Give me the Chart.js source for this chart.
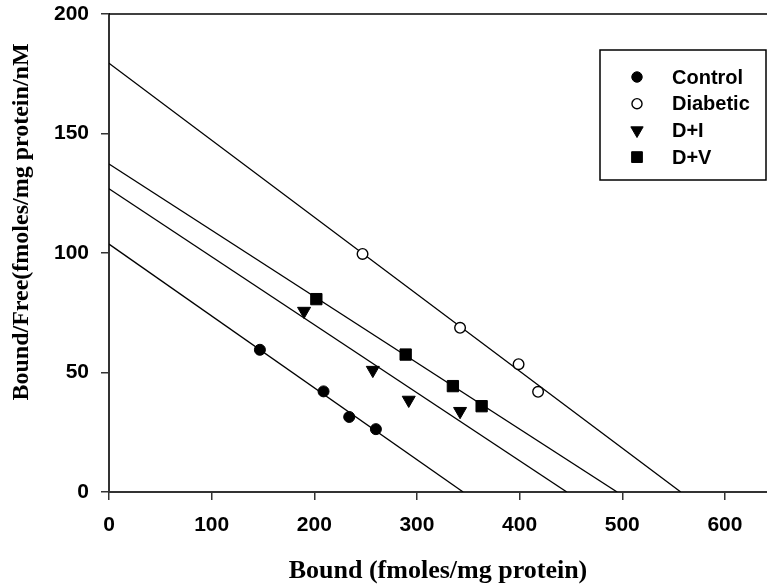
<!DOCTYPE html>
<html>
<head>
<meta charset="utf-8">
<script src="https://cdn.jsdelivr.net/npm/chart.js@4.4.0/dist/chart.umd.min.js"></script>
<style>
html, body { margin: 0; padding: 0; background: #fff; }
</style>
</head>
<body>
<canvas id="MyChart1" width="767" height="588"></canvas>
<script>
// measured points (Bound, Bound/Free)
var controlX = [147, 209, 234, 260];
var controlY = [59.5, 42.1, 31.4, 26.3];
var diabeticX = [247, 342, 399, 418];
var diabeticY = [99.6, 68.7, 53.5, 41.9];
var diX = [190, 257, 292, 342];
var diY = [75.7, 51.0, 38.5, 33.8];
var dvX = [202, 289, 335, 363];
var dvY = [80.7, 57.5, 44.3, 35.9];

// fitted lines, read as [y-intercept, x-intercept]
var controlFit = [103.7, 345];
var diabeticFit = [179.4, 557];
var diFit = [126.9, 446];
var dvFit = [137.2, 495];

var yTicks = [0, 50, 100, 150, 200];
var xTicks = [0, 100, 200, 300, 400, 500, 600];

function pts(xs, ys) {
	var out = [];
	for (var i = 0; i < xs.length; i++) out.push({ x: xs[i], y: ys[i] });
	return out;
}
function fit(f) {
	return [{ x: 0, y: f[0] }, { x: f[1], y: 0 }];
}
function fitLine(f) {
	return {
		data: fit(f),
		showLine: true,
		borderColor: "#000",
		borderWidth: 1.3,
		pointRadius: 0,
		order: 2,
		isFit: true
	};
}

var legendBox = {
	id: "legendBox",
	afterDraw: function(chart) {
		var ctx = chart.ctx;
		var area = chart.chartArea;
		ctx.save();
		// frame line on top
		ctx.strokeStyle = "#000";
		ctx.lineWidth = 1.5;
		ctx.beginPath();
		ctx.moveTo(area.left, area.top);
		ctx.lineTo(area.right, area.top);
		ctx.stroke();

		// y title
		ctx.fillStyle = "#000";
		ctx.font = "bold 24px 'Liberation Serif'";
		ctx.textAlign = "center";
		ctx.textBaseline = "middle";
		ctx.translate(22, 222);
		ctx.rotate(-Math.PI / 2);
		ctx.fillText("Bound/Free(fmoles/mg protein/nM", 0, 0);
		ctx.restore();

		// legend
		ctx.save();
		ctx.strokeStyle = "#000";
		ctx.lineWidth = 1.5;
		ctx.strokeRect(600, 50, 166, 130);
		ctx.font = "bold 20px 'Liberation Sans'";
		ctx.textAlign = "left";
		ctx.textBaseline = "middle";
		var y = 77;
		chart.data.datasets.forEach(function(ds) {
			if (ds.isFit) return;
			ctx.fillStyle = ds.backgroundColor;
			ctx.strokeStyle = ds.borderColor;
			ctx.lineWidth = ds.borderWidth;
			Chart.helpers.drawPoint(ctx, {
				pointStyle: ds.pointStyle,
				radius: ds.pointRadius * 0.95,
				rotation: ds.rotation || 0,
				borderWidth: ds.borderWidth
			}, 637, y);
			ctx.fillStyle = "#000";
			ctx.fillText(ds.label, 672, y + 1);
			y += 26.7;
		});
		ctx.restore();
	}
};

var tickFont = { family: "'Liberation Sans', Arial", weight: "bold", size: 21 };

var ctx = document.getElementById("MyChart1").getContext("2d");
var chart = new Chart(ctx, {
	type: "scatter",
	data: {
		datasets: [
			{ label: "Control", data: pts(controlX, controlY), pointStyle: "circle", pointRadius: 5.5,
				backgroundColor: "#000", borderColor: "#000", borderWidth: 1, order: 1 },
			{ label: "Diabetic", data: pts(diabeticX, diabeticY), pointStyle: "circle", pointRadius: 5.3,
				backgroundColor: "#fff", borderColor: "#000", borderWidth: 1.4, order: 1 },
			{ label: "D+I", data: pts(diX, diY), pointStyle: "triangle", rotation: 180, pointRotation: 180, pointRadius: 7.5,
				backgroundColor: "#000", borderColor: "#000", borderWidth: 1, order: 1 },
			{ label: "D+V", data: pts(dvX, dvY), pointStyle: "rect", pointRadius: 8,
				backgroundColor: "#000", borderColor: "#000", borderWidth: 1, order: 1 },
			fitLine(controlFit),
			fitLine(diabeticFit),
			fitLine(diFit),
			fitLine(dvFit)
		]
	},
	options: {
		responsive: false,
		animation: false,
		layout: { autoPadding: false, padding: { top: 14, left: 0, right: 0, bottom: 0 } },
		plugins: {
			legend: { display: false },
			tooltip: { enabled: false }
		},
		scales: {
			x: {
				type: "linear",
				min: 0,
				max: 641,
				afterBuildTicks: function(s) {
					s.ticks = xTicks.map(function(v) { return { value: v }; });
				},
				ticks: { color: "#000", font: tickFont, padding: 13, maxRotation: 0 },
				grid: { drawOnChartArea: false, drawTicks: true, tickLength: 8, color: "#333", lineWidth: 1.5 },
				border: { color: "#333", width: 2 },
				title: {
					display: true,
					text: "Bound (fmoles/mg protein)",
					color: "#000",
					font: { family: "'Liberation Serif', 'Times New Roman'", weight: "bold", size: 26 },
					padding: { top: 0, bottom: 1 }
				},
				afterFit: function(s) {
					s.height = 96;
					s.paddingLeft = 0;
					s.paddingRight = 0;
				}
			},
			y: {
				type: "linear",
				min: 0,
				max: 200,
				afterBuildTicks: function(s) {
					s.ticks = yTicks.map(function(v) { return { value: v }; });
				},
				ticks: { color: "#000", font: tickFont, padding: 12 },
				grid: { drawOnChartArea: false, drawTicks: true, tickLength: 8, color: "#333", lineWidth: 1.5 },
				border: { color: "#333", width: 2 },
				afterFit: function(s) {
					s.width = 109;
					s.paddingTop = 0;
					s.paddingBottom = 0;
				}
			}
		}
	},
	plugins: [legendBox]
});
</script>
</body>
</html>
